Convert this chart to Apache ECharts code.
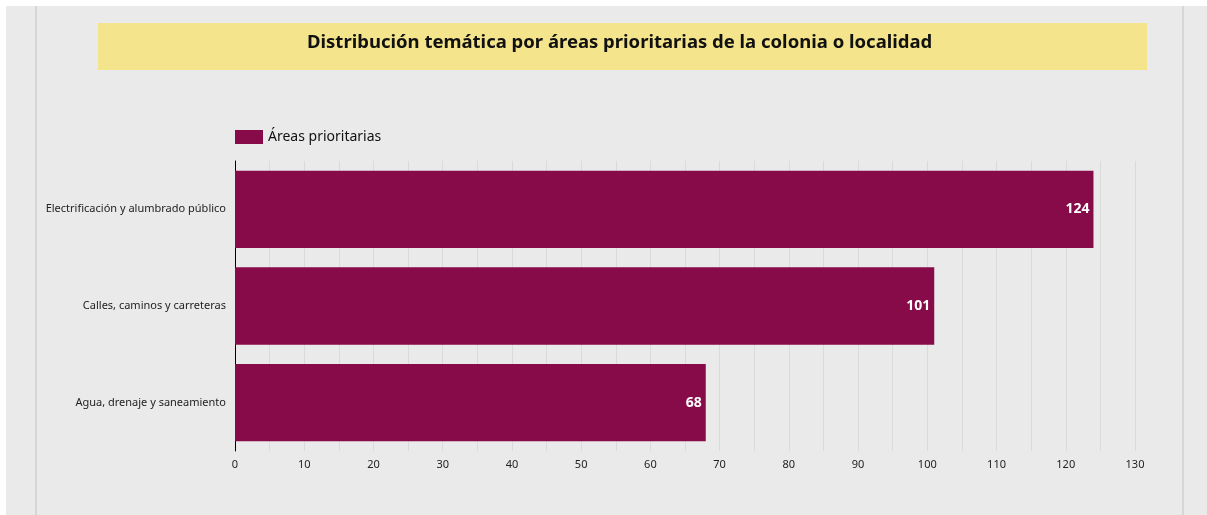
<!DOCTYPE html>
<html>
<head>
<meta charset="utf-8">
<script src="https://cdn.jsdelivr.net/npm/echarts@6/dist/echarts.min.js"></script>
<style>
  body { margin: 0; background: #fff; }
  #wrap { position: absolute; left: 6px; top: 6px; width: 1201px; height: 509px; background: #eaeaea; }
  .vline { position: absolute; top: 0; width: 2px; height: 509px; background: #d6d6d6; }
  #main { position: absolute; left: 0; top: 0; width: 1207px; height: 515px; }
</style>
</head>
<body>
<div id="wrap">
  <div class="vline" style="left:29px"></div>
  <div class="vline" style="left:1176px"></div>
</div>
<div id="main"></div>
<script>
var categories = ['Electrificación y alumbrado público', 'Calles, caminos y carreteras', 'Agua, drenaje y saneamiento'];
var values = [124, 101, 68];
var seriesName = 'Áreas prioritarias';
var titleText = 'Distribución temática por áreas prioritarias de la colonia o localidad';

var myChart = echarts.init(document.getElementById('main'));
var option = {
    backgroundColor: 'transparent',
    textStyle: { fontFamily: 'Noto Sans' },
    graphic: [
        { type: 'rect', left: 98, top: 23, shape: { width: 1049, height: 47 }, style: { fill: '#f4e48b' }, z: 0 }
    ],
    title: {
        text: titleText,
        left: 302,
        top: 28,
        textStyle: { fontFamily: 'Noto Sans', fontWeight: 'bold', fontSize: 18.5, color: '#111' },
        z: 10
    },
    legend: {
        left: 230,
        top: 125,
        icon: 'rect',
        itemWidth: 28,
        itemHeight: 14,
        itemGap: 6,
        textStyle: { fontSize: 14, color: '#111' },
        data: [seriesName]
    },
    grid: { left: 235, right: 72, top: 161, bottom: 64 },
    xAxis: {
        type: 'value',
        min: 0,
        max: 130,
        interval: 10,
        axisLine: { show: false },
        axisTick: { show: false },
        axisLabel: { fontSize: 11, color: '#222', margin: 8 },
        splitLine: { show: true, lineStyle: { color: '#dadada', width: 1 } },
        minorTick: { show: false, splitNumber: 2 },
        minorSplitLine: { show: true, lineStyle: { color: '#dadada', width: 1 } }
    },
    yAxis: {
        type: 'category',
        data: categories,
        inverse: true,
        axisLine: { show: true, lineStyle: { color: '#000', width: 1 } },
        axisTick: { show: false },
        axisLabel: { fontSize: 11, color: '#222', margin: 9 }
    },
    series: [
        {
            name: seriesName,
            type: 'bar',
            data: values,
            barCategoryGap: '20%',
            itemStyle: { color: '#870b48' },
            label: {
                show: true,
                position: 'insideRight',
                color: '#fff',
                fontWeight: 'bold',
                fontSize: 14,
                distance: 4
            }
        }
    ]
};
myChart.setOption(option);
</script>
</body>
</html>
